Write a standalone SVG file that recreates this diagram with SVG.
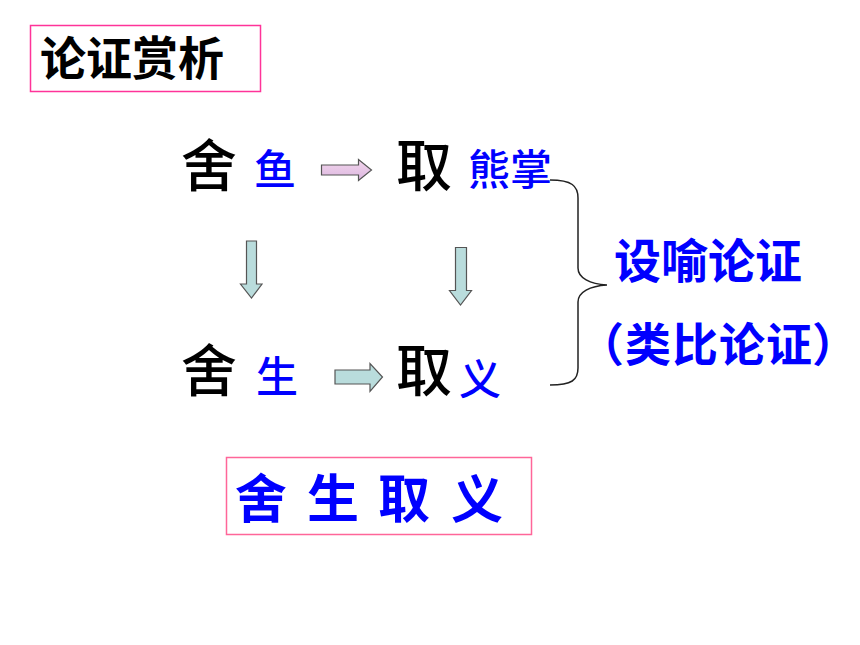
<svg xmlns="http://www.w3.org/2000/svg" width="860" height="645" viewBox="0 0 860 645">
<defs>
<linearGradient id="pinkg" x1="0" y1="0" x2="0" y2="1">
<stop offset="0" stop-color="#f2d6ec"/>
<stop offset="1" stop-color="#dcb6e0"/>
</linearGradient>
<style>
.cjk{font-family:"Noto Sans CJK SC","Noto Sans",sans-serif;}
.big{font-size:56px;fill:#000;font-weight:500;}
.small{font-size:42px;fill:#0000ff;font-weight:500;}
.blue{fill:#0000ff;font-weight:700;}
.arr{fill:#b9dcdc;stroke:#555;stroke-width:1.2;}
.arrp{fill:url(#pinkg);stroke:#555;stroke-width:1.2;}
</style>
</defs>
<rect width="860" height="645" fill="#fff"/>
<g id="title">
<rect x="30.5" y="25.5" width="230" height="66" fill="none" stroke="#ff3399" stroke-width="1.5"/>
<text class="cjk" x="40" y="75" font-size="46" font-weight="700" fill="#000">论证赏析</text>
</g>
<g id="node-she-yu">
<text class="cjk big" x="181" y="186">舍</text>
<text class="cjk small" x="254" y="185">鱼</text>
</g>
<g id="node-qu-xiongzhang">
<text class="cjk big" x="396" y="186">取</text>
<text class="cjk small" x="468" y="185">熊掌</text>
</g>
<g id="node-she-sheng">
<text class="cjk big" x="181" y="391">舍</text>
<text class="cjk small" x="256" y="392">生</text>
</g>
<g id="node-qu-yi">
<text class="cjk big" x="396" y="391">取</text>
<text class="cjk small" x="459" y="395">义</text>
</g>
<g id="connectors">
<path class="arrp" d="M321.5,165 H358.5 V159.5 L371.5,170 L358.5,180.5 V175 H321.5 Z"/>
<path class="arr" d="M335,370 H370 V363.5 L382.5,377 L370,391.5 V384 H335 Z"/>
<path class="arr" d="M246.5,241 H256.5 V284 H262 L251.5,298 L240.5,284 H246.5 Z"/>
<path class="arr" d="M455.5,247.5 H466.5 V290.5 H471.5 L460.5,305 L449.5,290.5 H455.5 Z"/>
<path d="M550,180 C572,180 578,186 578,198 V268 C578,278 590,284 607,285 C590,286 578,292 578,302 V368 C578,380 572,385 550,385" fill="none" stroke="#222" stroke-width="1.5"/>
</g>
<g id="label-sheyu">
<text class="cjk blue" x="614" y="278" font-size="47">设喻论证</text>
<text class="cjk blue" y="361" font-size="46"><tspan x="578">（</tspan><tspan x="625" letter-spacing="1">类比论证</tspan><tspan x="812">）</tspan></text>
</g>
<g id="summary">
<rect x="226.5" y="457.5" width="305" height="77" fill="none" stroke="#ff6699" stroke-width="1.5"/>
<text class="cjk blue" y="518" font-size="52" font-weight="500"><tspan x="235">舍</tspan><tspan x="307">生</tspan><tspan x="378">取</tspan><tspan x="451">义</tspan></text>
</g>
</svg>
